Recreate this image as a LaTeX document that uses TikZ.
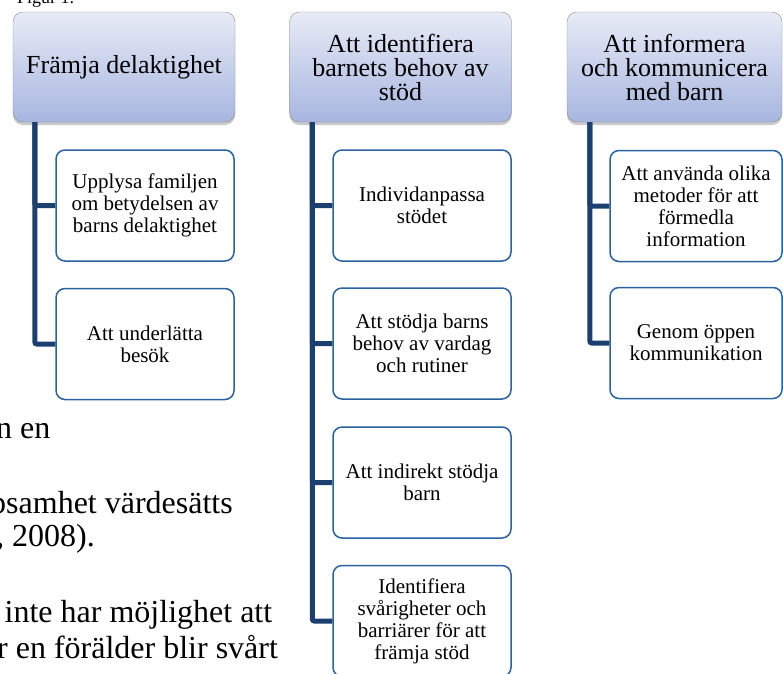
\documentclass[tikz,border=0pt]{standalone}
\usepackage{fontspec}
\setmainfont{Liberation Serif}
\usetikzlibrary{calc, shadows}

\definecolor{headtop}{HTML}{E8EBF6}
\definecolor{headbottom}{HTML}{A7B6E0}
\definecolor{headline}{HTML}{8C8C8C}
\definecolor{childline}{HTML}{2A62A0}
\definecolor{trunkblue}{HTML}{1B3F6E}

\begin{document}
\begin{tikzpicture}[
        x=1pt, y=-1pt,
        headbox/.style={draw=headline, rounded corners=10pt, top color=headtop, bottom color=headbottom, minimum width=222pt, minimum height=110pt, inner sep=2pt, align=center, font=\fontsize{26}{24}\selectfont, drop shadow={shadow xshift=0pt, shadow yshift=-3pt, opacity=0.35, fill=black!60}},
        childbox/.style={draw=childline, line width=1.5pt, fill=white, rounded corners=9pt, minimum width=178pt, minimum height=111pt, inner sep=2pt, align=center, font=\fontsize{21}{22}\selectfont},
        trunk/.style={draw=trunkblue, line width=5pt, rounded corners=2pt},
        bodytext/.style={anchor=base west, inner sep=0pt, font=\fontsize{32}{37}\selectfont}
    ]
    \useasboundingbox (0,0) rectangle (783,673);

    % Running text of the page around the figure
    \node[bodytext, font=\fontsize{18}{20}\selectfont] (caption) at (17,3) {Figur 1.};
    \node[bodytext] (line_a) at (-4,438) {n en};
    \node[bodytext] (line_b) at (-10,513) {psamhet värdesätts};
    \node[bodytext] (line_c) at (-4,546) {, 2008).};
    \node[bodytext] (line_d) at (4.5,622) {inte har möjlighet att};
    \node[bodytext] (line_e) at (-3,658) {r en förälder blir svårt};

    % Theme headers
    \node[headbox] (delaktighet) at (124,67) {Främja delaktighet};
    \node[headbox] (behov) at (400.5,67) {Att identifiera\\barnets behov av\\stöd};
    \node[headbox, minimum width=215pt] (informera) at (674.5,67) {Att informera\\och kommunicera\\med barn};

    % Subthemes
    \node[childbox] (upplysa) at (145,205.5) {Upplysa familjen\\om betydelsen av\\barns delaktighet};
    \node[childbox] (besok) at (145,344) {Att underlätta\\besök};

    \node[childbox] (individ) at (422,205.5) {Individanpassa\\stödet};
    \node[childbox] (vardag) at (422,343.5) {Att stödja barns\\behov av vardag\\och rutiner};
    \node[childbox] (indirekt) at (422,482.5) {Att indirekt stödja\\barn};
    \node[childbox] (barriarer) at (422,621) {Identifiera\\svårigheter och\\barriärer för att\\främja stöd};

    \node[childbox, minimum width=172pt] (metoder) at (696,206) {Att använda olika\\metoder för att\\förmedla\\information};
    \node[childbox, minimum width=172pt] (oppen) at (696,343) {Genom öppen\\kommunikation};

    % Connectors from each header down to its subthemes
    \draw[trunk] ($(delaktighet.south west)+(22,0)$) |- (upplysa.west);
    \draw[trunk] ($(delaktighet.south west)+(22,0)$) |- (besok.west);
    \draw[trunk] ($(behov.south west)+(23,0)$) |- (individ.west);
    \draw[trunk] ($(behov.south west)+(23,0)$) |- (vardag.west);
    \draw[trunk] ($(behov.south west)+(23,0)$) |- (indirekt.west);
    \draw[trunk] ($(behov.south west)+(23,0)$) |- (barriarer.west);
    \draw[trunk] ($(informera.south west)+(23,0)$) |- (metoder.west);
    \draw[trunk] ($(informera.south west)+(23,0)$) |- (oppen.west);
\end{tikzpicture}
\end{document}
